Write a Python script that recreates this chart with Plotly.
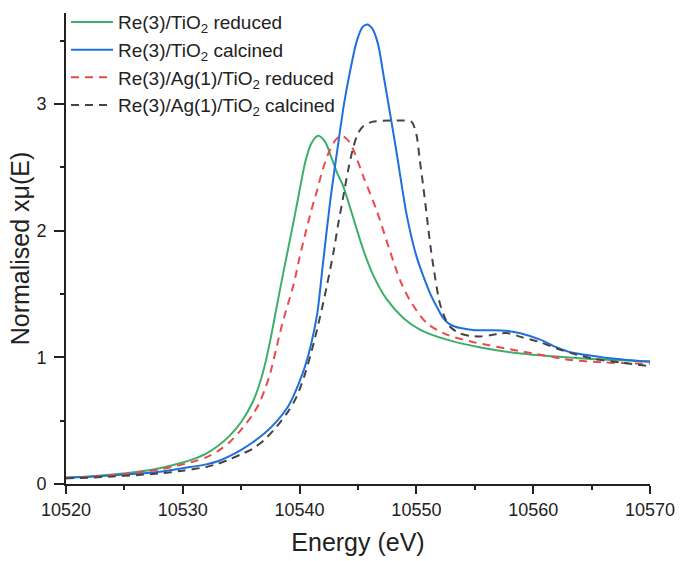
import plotly.graph_objects as go

# Re(3)/TiO2 reduced
e_green = [10520, 10522, 10524, 10526, 10528, 10530, 10531, 10532, 10533, 10534, 10535, 10536,
           10536.5, 10537, 10537.5, 10538, 10538.5, 10539, 10539.5, 10540, 10540.5, 10541, 10541.6,
           10542.2, 10542.6, 10543.2, 10543.7, 10544.2, 10544.8, 10545.45, 10546.3, 10547.45,
           10548.9, 10550.3, 10552.6, 10555.4, 10558.9, 10564.6, 10570]
y_green = [0.050, 0.060, 0.075, 0.095, 0.125, 0.17, 0.20, 0.24, 0.30, 0.38, 0.49, 0.65,
           0.77, 0.93, 1.14, 1.38, 1.62, 1.85, 2.08, 2.32, 2.55, 2.69, 2.75,
           2.70, 2.61, 2.46, 2.36, 2.22, 2.04, 1.85, 1.65, 1.46,
           1.31, 1.22, 1.14, 1.08, 1.03, 0.99, 0.97]

# Re(3)/TiO2 calcined
e_blue = [10520, 10522, 10524, 10526, 10528, 10530, 10532, 10533, 10534, 10535, 10536, 10537,
          10538, 10539, 10539.5, 10540, 10540.5, 10541, 10541.5, 10542, 10542.6, 10543.2, 10543.8,
          10544.3, 10544.9, 10545.4, 10545.8, 10546.2, 10546.7, 10547.2, 10547.7, 10548.3, 10549.2,
          10550.0, 10550.6, 10551.2, 10551.8, 10552.3, 10552.8, 10553.4, 10554.2, 10555, 10556.5,
          10557.7, 10558.9, 10560.6, 10562, 10563.2, 10566, 10570]
y_blue = [0.05, 0.058, 0.068, 0.08, 0.097, 0.125, 0.155, 0.18, 0.22, 0.27, 0.33, 0.40,
          0.49, 0.61, 0.70, 0.81, 0.94, 1.11, 1.34, 1.74, 2.22, 2.62, 3.00,
          3.25, 3.50, 3.61, 3.63, 3.60, 3.48, 3.22, 2.95, 2.62, 2.11,
          1.80, 1.64, 1.50, 1.39, 1.31, 1.265, 1.24, 1.225, 1.215, 1.215,
          1.21, 1.19, 1.14, 1.08, 1.04, 1.00, 0.965]

# Re(3)/Ag(1)/TiO2 reduced
e_red = [10520, 10522, 10524, 10526, 10528, 10530, 10531, 10532, 10533, 10534, 10535, 10536,
         10536.5, 10537, 10537.5, 10538, 10538.5, 10539, 10539.5, 10540, 10540.5, 10541, 10541.5,
         10542, 10542.6, 10543.1, 10543.6, 10544.1, 10544.6, 10545.45, 10546.6, 10547.7, 10548.6,
         10549.45, 10550.9, 10552.6, 10554.9, 10558.9, 10563.2, 10566, 10570]
y_red = [0.045, 0.055, 0.07, 0.09, 0.115, 0.155, 0.18, 0.21, 0.26, 0.33, 0.43, 0.55,
         0.63, 0.74, 0.88, 1.07, 1.26, 1.42, 1.58, 1.79, 1.98, 2.16, 2.32,
         2.49, 2.64, 2.72, 2.75, 2.72, 2.64, 2.43, 2.16, 1.85, 1.61,
         1.45, 1.27, 1.18, 1.12, 1.05, 0.98, 0.96, 0.95]

# Re(3)/Ag(1)/TiO2 calcined
e_black = [10520, 10522, 10524, 10526, 10528, 10530, 10532, 10533, 10534, 10535, 10536, 10537,
           10538, 10539, 10539.75, 10540.5, 10541.2, 10541.75, 10542.3, 10542.9, 10543.3, 10543.7,
           10544.2, 10544.6, 10545.0, 10545.5, 10546.2, 10547.7, 10549.0, 10549.6, 10550.0, 10550.3,
           10550.6, 10550.9, 10551.2, 10551.45, 10552.0, 10552.5, 10552.9, 10553.7, 10554.6, 10555.4,
           10556.3, 10557.2, 10557.9, 10559, 10560.6, 10562, 10563.4, 10565.1, 10567.5, 10570]
y_black = [0.045, 0.05, 0.06, 0.07, 0.084, 0.105, 0.135, 0.16, 0.195, 0.235, 0.28, 0.35,
           0.45, 0.57, 0.69, 0.88, 1.11, 1.32, 1.55, 1.83, 2.05, 2.25,
           2.50, 2.66, 2.77, 2.83, 2.86, 2.87, 2.87, 2.86, 2.76, 2.55,
           2.34, 2.11, 1.88, 1.72, 1.43, 1.30, 1.24, 1.19, 1.17, 1.165,
           1.175, 1.19, 1.19, 1.16, 1.12, 1.07, 1.03, 0.99, 0.96, 0.93]

names = ["Re(3)/TiO<sub>2</sub> reduced", "Re(3)/TiO<sub>2</sub> calcined",
         "Re(3)/Ag(1)/TiO<sub>2</sub> reduced", "Re(3)/Ag(1)/TiO<sub>2</sub> calcined"]
x_ticks = [10520, 10530, 10540, 10550, 10560, 10570]
y_ticks = [0, 1, 2, 3]

fig = go.Figure()
fig.add_trace(go.Scatter(x=e_green, y=y_green, mode="lines", name=names[0],
                         line=dict(color="#3daf6b", width=2, shape="spline", smoothing=0.8)))
fig.add_trace(go.Scatter(x=e_blue, y=y_blue, mode="lines", name=names[1],
                         line=dict(color="#1f6fdc", width=2, shape="spline", smoothing=0.8)))
fig.add_trace(go.Scatter(x=e_red, y=y_red, mode="lines", name=names[2],
                         line=dict(color="#e84a4e", width=2, dash="8px,6px", shape="spline", smoothing=0.8)))
fig.add_trace(go.Scatter(x=e_black, y=y_black, mode="lines", name=names[3],
                         line=dict(color="#444444", width=2, dash="8px,6px", shape="spline", smoothing=0.8)))

fig.update_layout(
    width=681, height=561,
    margin=dict(l=66, r=31, t=13, b=77, autoexpand=False),
    paper_bgcolor="white", plot_bgcolor="white",
    font=dict(family="Liberation Sans, Arial, sans-serif", color="#222222", size=18),
    showlegend=True,
    legend=dict(x=0.0, y=1.021, xanchor="left", yanchor="top",
                bgcolor="rgba(0,0,0,0)",
                font=dict(size=19, color="#222222"), itemwidth=42, tracegroupgap=0),
    xaxis=dict(range=[10520, 10570], tickvals=x_ticks, ticktext=[str(v) for v in x_ticks],
               automargin=False,
               ticks="outside", ticklen=8, tickwidth=2, tickcolor="#222222",
               showline=True, linecolor="#222222", linewidth=2, showgrid=False, zeroline=False,
               tickfont=dict(size=18),
               minor=dict(ticks="outside", ticklen=4, tickwidth=2, tickcolor="#222222", dtick=5, showgrid=False),
               title=dict(text="Energy (eV)", font=dict(size=25))),
    yaxis=dict(range=[0, 3.72], tickvals=y_ticks, ticktext=[str(v) for v in y_ticks],
               automargin=False,
               ticks="outside", ticklen=10, tickwidth=2, tickcolor="#222222",
               showline=True, linecolor="#222222", linewidth=2, showgrid=False, zeroline=False,
               tickfont=dict(size=18), ticklabelstandoff=4,
               minor=dict(ticks="outside", ticklen=4, tickwidth=2, tickcolor="#222222", dtick=0.5, showgrid=False),
               title=dict(text="Normalised xμ(E)", font=dict(size=25), standoff=0)),
)

fig.write_html("out.html", config={"displayModeBar": False},
               post_script="document.body.style.margin='0';")
